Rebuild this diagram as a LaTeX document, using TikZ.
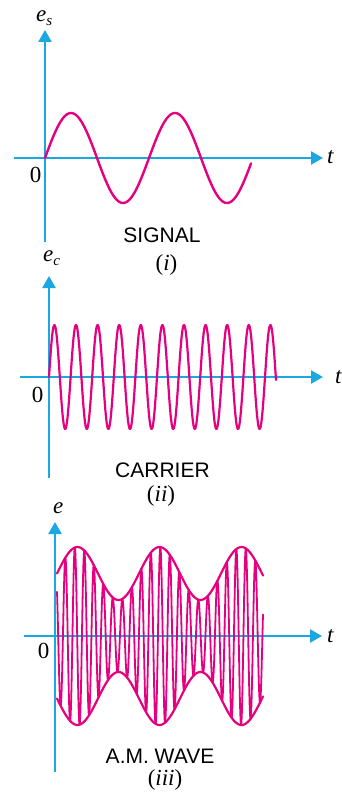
\documentclass[tikz,border=0pt]{standalone}
\usepackage{fontspec}
\setmainfont{Liberation Serif}
\setsansfont{Liberation Sans}
\usetikzlibrary{arrows.meta}
\definecolor{axisblue}{RGB}{27,168,226}
\definecolor{wavepink}{RGB}{228,0,127}
\begin{document}
\begin{tikzpicture}[x=1pt,y=-1pt,
  axis/.style={draw=axisblue,line width=2.5pt,-{Triangle[length=12pt,width=13pt]}},
  wave/.style={draw=wavepink,line width=2.4pt,line join=round,line cap=round},
  thinwave/.style={draw=wavepink,line width=1.8pt,line join=round,line cap=round},
  serif/.style={inner sep=0pt,font=\fontsize{23}{25}\selectfont},
  captxt/.style={inner sep=0pt,font=\sffamily\fontsize{21}{24}\selectfont},
]
\useasboundingbox (0,0) rectangle (342,794);
% ---------- panel (i) ----------
\coordinate (y1b) at (45,242); \coordinate (y1t) at (45,30);
\coordinate (x1l) at (14,158); \coordinate (x1r) at (323,158);
\draw[axis] (y1b) -- (y1t);
\draw[axis] (x1l) -- (x1r);
\draw[wave] plot[domain=45:251,samples=160] (\x,{158-45*sin((\x-45)/104*360)});
\node[serif,anchor=base west] (es) at (36,22) {\itshape e\raisebox{-4pt}{\fontsize{15}{15}\selectfont\itshape s}};
\node[serif,anchor=base west] (t1) at (327,164) {\itshape t};
\node[serif] (z1) at (35.5,174.5) {0};
\node[captxt] (c1) at (162,235) {SIGNAL};
\node[serif] (n1) at (166.5,265) {(\textit{i})};
% ---------- panel (ii) ----------
\coordinate (y2b) at (49,478); \coordinate (y2t) at (49,276);
\coordinate (x2l) at (20,377); \coordinate (x2r) at (323,377);
\draw[axis] (y2b) -- (y2t);
\draw[axis] (x2l) -- (x2r);
\draw[wave,line width=2.2pt] plot[domain=49:276,samples=600] (\x,{377-52*sin((\x-49)/21.6*360)});
\node[serif,anchor=base west] (ec) at (43,261) {\itshape e\raisebox{-4pt}{\fontsize{15}{15}\selectfont\itshape c}};
\node[serif,anchor=base west] (t2) at (335,383) {\itshape t};
\node[serif] (z2) at (37.5,395) {0};
\node[captxt] (c2) at (162.5,470) {CARRIER};
\node[serif] (n2) at (161,496) {(\textit{ii})};
% ---------- panel (iii) ----------
\coordinate (y3b) at (55,772); \coordinate (y3t) at (55,522);
\coordinate (x3l) at (24,636); \coordinate (x3r) at (322,636);
\draw[axis] (y3b) -- (y3t);
\draw[axis] (x3l) -- (x3r);
\draw[wave,line width=2.2pt] plot[domain=57:263,samples=160] (\x,{636-(62.5+26.5*sin((\x-57)/82*360))});
\draw[wave,line width=2.2pt] plot[domain=57:263,samples=160] (\x,{636+(62.5+26.5*sin((\x-57)/82*360))});
\draw[thinwave] plot[domain=57:263,samples=1000] (\x,{636-(62.5+26.5*sin((\x-57)/82*360))*sin(135+(\x-57)/9.5*360)});
\node[serif,anchor=base west] (e3) at (53,513) {\itshape e};
\node[serif,anchor=base west] (t3) at (327,642) {\itshape t};
\node[serif] (z3) at (43.5,651) {0};
\node[captxt] (c3) at (160,756) {A.M. WAVE};
\node[serif] (n3) at (165,780) {(\textit{iii})};
\end{tikzpicture}
\end{document}
